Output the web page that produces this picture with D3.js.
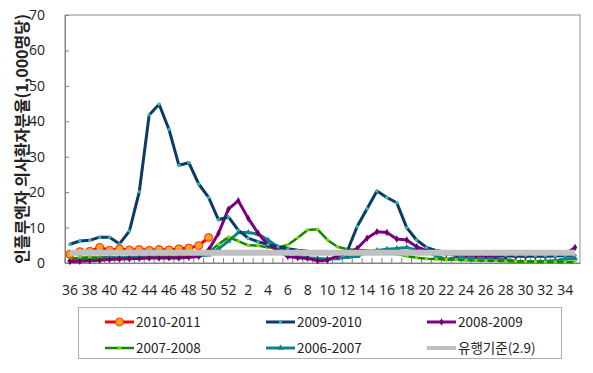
<!DOCTYPE html>
<html>
<head>
<meta charset="utf-8">
<script src="https://cdn.jsdelivr.net/npm/d3@7"></script>
<style>
  body { margin: 0; background: #fff; }
  svg { display: block; font-family: "Noto Sans CJK KR", "Noto Sans", sans-serif; }
</style>
</head>
<body>
<svg id="chart"></svg>
<script>
const weeks = [36, 37, 38, 39, 40, 41, 42, 43, 44, 45, 46, 47, 48, 49, 50, 51, 52,
    1, 2, 3, 4, 5, 6, 7, 8, 9, 10, 11, 12, 13, 14, 15, 16, 17, 18, 19, 20,
    21, 22, 23, 24, 25, 26, 27, 28, 29, 30, 31, 32, 33, 34, 35];
const weekLabels = [36, 38, 40, 42, 44, 46, 48, 50, 52, 2, 4, 6, 8, 10, 12, 14, 16, 18, 20, 22, 24, 26, 28, 30, 32, 34];
const yTicks = [0, 10, 20, 30, 40, 50, 60, 70];

const s2010 = [2.5, 3.2, 3.3, 4.4, 3.6, 4.0, 3.7, 3.8, 3.6, 3.8, 3.7, 4.0, 4.2, 4.9, 7.2];
const s2009 = [5.3, 6.2, 6.4, 7.3, 7.3, 5.4, 9.0, 20.1, 41.8, 44.8, 37.7, 27.6, 28.3, 22.3, 18.5, 12.2, 13.0,
    9.3, 7.0, 6.0, 5.2, 4.6, 4.0, 3.6, 3.3, 3.1, 2.9, 2.9, 3.3, 10.3, 15.3, 20.3, 18.5, 17.0, 10.0, 6.5, 4.4,
    3.5, 3.0, 2.8, 2.6, 2.5, 2.4, 2.3, 2.2, 2.2, 2.1, 2.0, 2.0, 2.0, 2.1, 2.2];
const s2008 = [0.4, 0.5, 0.6, 0.8, 1.0, 1.1, 1.2, 1.3, 1.4, 1.4, 1.5, 1.4, 1.6, 1.8, 3.7, 8.4, 15.2,
    17.6, 12.6, 8.4, 5.1, 3.5, 1.8, 1.5, 1.3, 0.6, 0.8, 2.0, 2.7, 4.1, 7.0, 8.8, 8.6, 6.8, 6.5, 4.6, 3.5,
    2.8, 2.6, 2.4, 2.3, 2.2, 2.1, 2.0, 2.0, 1.9, 1.9, 2.0, 2.0, 2.1, 2.5, 4.4];
const s2007 = [1.2, 1.5, 1.6, 1.4, 1.4, 1.1, 1.3, 1.4, 1.5, 1.8, 1.4, 1.5, 1.6, 1.8, 3.0, 5.3, 7.3,
    6.2, 5.0, 4.9, 4.4, 4.4, 5.1, 7.1, 9.3, 9.5, 6.5, 4.6, 3.9, 3.7, 3.5, 3.3, 2.9, 2.5, 2.0, 1.5, 1.2,
    1.1, 1.0, 0.9, 0.8, 0.7, 0.6, 0.6, 0.5, 0.5, 0.4, 0.4, 0.3, 0.3, 0.3, 0.3];
const s2006 = [1.0, 1.2, 1.3, 1.5, 1.6, 1.5, 1.6, 1.7, 1.7, 1.8, 1.7, 1.8, 1.9, 2.0, 2.3, 4.0, 6.2,
    8.6, 8.6, 8.2, 6.5, 4.5, 3.0, 2.0, 1.5, 1.3, 1.1, 1.3, 1.6, 1.9, 3.0, 3.5, 3.9, 4.1, 4.4, 3.7, 3.2,
    2.0, 1.0, 1.6, 1.6, 1.5, 1.4, 1.3, 1.0, 0.5, 0.4, 0.4, 0.5, 0.6, 1.2, 1.3];
const threshold = 2.9;

const width = 593;
const height = 373;
const plotLeft = 65, plotRight = 580, plotTop = 15, plotBottom = 263;

const svg = d3.select('#chart')
    .attr('width', width)
    .attr('height', height);

const xScale = d3.scaleBand()
    .domain(weeks)
    .range([plotLeft, plotRight])
    .padding(0);

const yScale = d3.scaleLinear()
    .domain([0, 70])
    .range([plotBottom, plotTop]);

const xMid = w => xScale(w) + xScale.bandwidth() / 2;

// plot border
svg.append('rect')
    .attr('x', plotLeft)
    .attr('y', plotTop)
    .attr('width', plotRight - plotLeft)
    .attr('height', plotBottom - plotTop)
    .attr('fill', 'none')
    .attr('stroke', '#8c8c8c')
    .attr('stroke-width', 1);

// y axis
const yAxis = d3.axisLeft(yScale)
    .tickValues(yTicks)
    .tickSizeInner(-4)
    .tickSizeOuter(0)
    .tickPadding(20);

const gy = svg.append('g')
    .attr('transform', 'translate(' + plotLeft + ',0)')
    .call(yAxis);
gy.select('.domain').attr('stroke', '#808080');
gy.selectAll('.tick line').attr('stroke', '#808080');
gy.selectAll('text').attr('font-size', 14).attr('fill', '#222')
    .attr('font-family', '"Open Sans", sans-serif');

// x axis: labels every other week, minor ticks at category edges
const xAxis = d3.axisBottom(xScale)
    .tickValues(weekLabels)
    .tickSize(0)
    .tickPadding(22);

const gx = svg.append('g')
    .attr('transform', 'translate(0,' + plotBottom + ')')
    .call(xAxis);
gx.select('.domain').attr('stroke', '#808080');
gx.selectAll('text').attr('font-size', 14).attr('fill', '#222')
    .attr('font-family', '"Open Sans", sans-serif');

svg.append('g')
    .selectAll('line')
    .data(weeks)
    .enter()
    .append('line')
    .attr('x1', w => xScale(w))
    .attr('x2', w => xScale(w))
    .attr('y1', plotBottom)
    .attr('y2', plotBottom - 5)
    .attr('stroke', '#808080');

// y title
svg.append('text')
    .attr('transform', 'translate(28,' + ((plotTop + plotBottom) / 2) + ') rotate(-90)')
    .attr('text-anchor', 'middle')
    .attr('font-size', 16)
    .attr('font-weight', 'bold')
    .attr('fill', '#222')
    .text('인플루엔자 의사환자분율(1,000명당)');

const series = [
    { name: '2006-2007', values: s2006, color: '#0e8585', width: 3, marker: 'triangle', mcolor: '#0e8585', mr: 2 },
    { name: '2007-2008', values: s2007, color: '#0a8a0a', width: 2.5, marker: 'circle', mcolor: '#99cc00', mr: 1.6 },
    { name: '2008-2009', values: s2008, color: '#800080', width: 3, marker: 'diamond', mcolor: '#6a006a', mr: 2 },
    { name: '2009-2010', values: s2009, color: '#0b3a66', width: 3, marker: 'circle', mcolor: '#33b5b5', mr: 1.5 },
    { name: '2010-2011', values: s2010, color: '#ff0000', width: 3, marker: 'big', mcolor: '#ffa020', mr: 4 }
];

const line = d3.line()
    .x((d, i) => xMid(weeks[i]))
    .y(d => yScale(d));

const symbolFor = m => m === 'triangle' ? d3.symbolTriangle : (m === 'diamond' ? d3.symbolDiamond : d3.symbolCircle);

const drawMarkers = (g, s, values) => {
    if (s.marker === 'big') {
        g.selectAll('circle')
            .data(values)
            .enter()
            .append('circle')
            .attr('cx', (d, i) => xMid(weeks[i]))
            .attr('cy', d => yScale(d))
            .attr('r', s.mr)
            .attr('fill', s.mcolor)
            .attr('stroke', '#ff2a00')
            .attr('stroke-width', 1);
    } else {
        g.selectAll('path.m')
            .data(values)
            .enter()
            .append('path')
            .attr('class', 'm')
            .attr('d', d3.symbol().type(symbolFor(s.marker)).size(s.mr * s.mr * 4))
            .attr('transform', (d, i) => 'translate(' + xMid(weeks[i]) + ',' + yScale(d) + ')')
            .attr('fill', s.mcolor);
    }
};

series.forEach(s => {
    const g = svg.append('g');
    g.append('path')
        .datum(s.values)
        .attr('d', line)
        .attr('fill', 'none')
        .attr('stroke', s.color)
        .attr('stroke-width', s.width)
        .attr('stroke-linejoin', 'round');
    drawMarkers(g, s, s.values);
});

// threshold line
svg.append('line')
    .attr('x1', xMid(weeks[0]))
    .attr('x2', xMid(weeks[weeks.length - 1]))
    .attr('y1', yScale(threshold))
    .attr('y2', yScale(threshold))
    .attr('stroke', '#c0c0c0')
    .attr('stroke-width', 6);

// legend
const legend = svg.append('g');
legend.append('rect')
    .attr('x', 78.5)
    .attr('y', 307.5)
    .attr('width', 483)
    .attr('height', 51)
    .attr('fill', '#fff')
    .attr('stroke', '#b0b0b0');

const legendItems = [
    series[4], series[3], series[2], series[1], series[0],
    { name: '유행기준(2.9)', color: '#c0c0c0', width: 4, marker: 'none' }
];
const colX = [105, 266, 427];
const rowY = [322, 348];

legendItems.forEach((s, i) => {
    const lx = colX[i % 3];
    const ly = rowY[Math.floor(i / 3)];
    const g = legend.append('g');
    g.append('line')
        .attr('x1', lx).attr('x2', lx + 29)
        .attr('y1', ly).attr('y2', ly)
        .attr('stroke', s.color)
        .attr('stroke-width', s.width);
    if (s.marker === 'big') {
        g.append('circle')
            .attr('cx', lx + 14.5).attr('cy', ly).attr('r', 4)
            .attr('fill', s.mcolor).attr('stroke', '#ff2a00');
    } else if (s.marker !== 'none') {
        g.append('path')
            .attr('d', d3.symbol().type(symbolFor(s.marker)).size(s.mr * s.mr * 4))
            .attr('transform', 'translate(' + (lx + 14.5) + ',' + ly + ')')
            .attr('fill', s.mcolor);
    }
    g.append('text')
        .attr('x', lx + 31)
        .attr('y', ly)
        .attr('dy', '0.35em')
        .attr('font-size', 13.5)
        .attr('fill', '#222')
        .text(s.name);
});
</script>
</body>
</html>
